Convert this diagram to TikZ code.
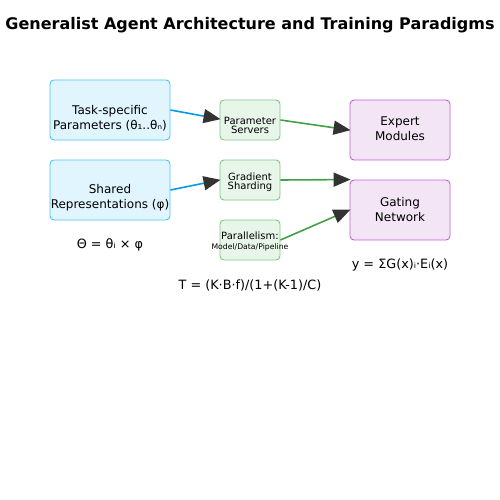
\documentclass[tikz,border=0pt]{standalone}
\usepackage{fontspec}
\setmainfont{DejaVu Sans}
\usetikzlibrary{arrows.meta}
\definecolor{bluefill}{HTML}{E1F5FE}
\definecolor{blueline}{HTML}{4FC3F7}
\definecolor{blueedge}{HTML}{039BE5}
\definecolor{greenfill}{HTML}{E8F5E9}
\definecolor{greenline}{HTML}{81C784}
\definecolor{greenedge}{HTML}{43A047}
\definecolor{purplefill}{HTML}{F3E5F5}
\definecolor{purpleline}{HTML}{BA68C8}
\definecolor{tipgray}{HTML}{333333}
\newcommand{\fs}[2]{\fontsize{#1}{#2}\selectfont}
\begin{document}
\begin{tikzpicture}[x=1pt,y=-1pt,
  box/.style={draw,rounded corners=4pt,line width=0.9pt,inner sep=0pt},
  bluebox/.style={box,fill=bluefill,draw=blueline,minimum width=120pt,minimum height=60pt},
  greenbox/.style={box,fill=greenfill,draw=greenline,minimum width=60pt,minimum height=40pt},
  purplebox/.style={box,fill=purplefill,draw=purpleline,minimum width=100pt,minimum height=60pt},
  boxtext/.style={align=center,inner sep=0pt,font=\fs{12}{15}},
  smalltext/.style={align=center,inner sep=0pt,font=\fs{10}{9.3}},
  eq/.style={inner sep=0pt,font=\fs{12.8}{15}},
  link/.style={line width=1.6pt,-{Triangle[length=17pt,width=14pt,color=tipgray]},shorten >=-1pt},
  bluelink/.style={link,draw=blueedge},
  greenlink/.style={link,draw=greenedge}]
\useasboundingbox (0,0) rectangle (500,500);
\node[font=\bfseries\fs{16}{19}] (title) at (250,25) {Generalist Agent Architecture and Training Paradigms};
\node[bluebox] (task) at (110,110) {};
\node[boxtext] (tasktxt) at ([yshift=-8]task.center) {Task-specific\\Parameters (θ₁..θₙ)};
\node[bluebox] (shared) at (110,190) {};
\node[boxtext] (sharedtxt) at ([yshift=-8]shared.center) {Shared\\Representations (φ)};
\node[greenbox] (servers) at (250,120) {};
\node[smalltext] (serverstxt) at ([yshift=-5.7]servers.center) {Parameter\\Servers};
\node[greenbox] (sharding) at (250,180) {};
\node[smalltext] (shardingtxt) at ([yshift=-2]sharding.center) {Gradient\\Sharding};
\node[greenbox] (parallel) at (250,240) {};
\node[smalltext] (paralleltxt) at ([yshift=-1.6]parallel.center) {Parallelism:\\\fs{7.7}{9}Model/Data/Pipeline};
\node[purplebox] (expert) at (400,130) {};
\node[boxtext] (experttxt) at ([yshift=1]expert.center) {Expert\\Modules};
\node[purplebox] (gating) at (400,210) {};
\node[boxtext] (gatingtxt) at (gating.center) {Gating\\Network};
\node[eq] (thetaeq) at (110,245) {Θ = θᵢ × φ};
\node[eq] (moeeq) at (400,265) {y = ΣG(x)ᵢ·Eᵢ(x)};
\node[eq] (timeeq) at (250,285) {T = (K·B·f)/(1+(K-1)/C)};
\draw[bluelink] (task.east) -- ([yshift=1]servers.west);
\draw[bluelink] (shared.east) -- (sharding.west);
\draw[greenlink] (servers.east) -- (expert.west);
\draw[greenlink] (sharding.east) -- (gating.north west);
\draw[greenlink] (parallel.east) -- (gating.west);
\end{tikzpicture}
\end{document}
